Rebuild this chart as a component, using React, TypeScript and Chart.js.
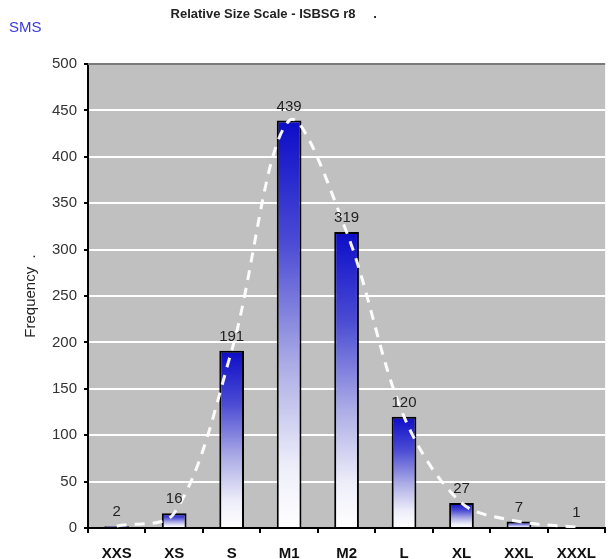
import React, { useEffect, useRef } from "react";
import { Chart, registerables } from "chart.js";

Chart.register(...registerables);

const categories = ["XXS", "XS", "S", "M1", "M2", "L", "XL", "XXL", "XXXL"];
const frequencies = [2, 16, 191, 439, 319, 120, 27, 7, 1];
const yMin = 0;
const yMax = 500;
const yStep = 50;
const titleText = "Relative Size Scale - ISBSG r8";
const brandText = "SMS";
const yTitleText = "Frequency";

const W = 608;
const H = 559;

const decorPlugin = {
  id: "decor",
  beforeDraw(chart: any) {
    const { ctx, chartArea } = chart;
    ctx.save();
    ctx.fillStyle = "#ffffff";
    ctx.fillRect(0, 0, chart.width, chart.height);
    ctx.fillStyle = "#c0c0c0";
    ctx.fillRect(chartArea.left, chartArea.top, chartArea.right - chartArea.left, chartArea.bottom - chartArea.top);
    ctx.restore();
  },
  afterDatasetsDraw(chart: any) {
    const { ctx, chartArea } = chart;
    const meta = chart.getDatasetMeta(0);
    ctx.save();
    ctx.strokeStyle = "#7a7a7a";
    ctx.lineWidth = 2;
    ctx.beginPath();
    ctx.moveTo(chartArea.left, chartArea.top);
    ctx.lineTo(chartArea.right, chartArea.top);
    ctx.stroke();
    ctx.fillStyle = "#222";
    ctx.font = "15px 'Liberation Sans', Arial, sans-serif";
    ctx.textAlign = "center";
    ctx.textBaseline = "alphabetic";
    meta.data.forEach((bar: any, i: number) => {
      ctx.fillText(String(frequencies[i]), bar.x, bar.y - 10);
    });
    ctx.restore();
  },
  afterDraw(chart: any) {
    const { ctx } = chart;
    ctx.save();
    ctx.fillStyle = "#222";
    ctx.font = "bold 13px 'Liberation Sans', Arial, sans-serif";
    ctx.textAlign = "center";
    ctx.textBaseline = "middle";
    ctx.fillText(titleText, 263, 14);
    ctx.fillText(".", 375, 14);
    ctx.fillStyle = "#3a3ae0";
    ctx.font = "15px 'Liberation Sans', Arial, sans-serif";
    ctx.textAlign = "left";
    ctx.fillText(brandText, 9, 28);
    ctx.translate(31, 296);
    ctx.rotate(-Math.PI / 2);
    ctx.fillStyle = "#222";
    ctx.font = "15px 'Liberation Sans', Arial, sans-serif";
    ctx.textAlign = "center";
    ctx.fillText(yTitleText + "  .", 0, 0);
    ctx.restore();
  },
};

function barGradient(context: any) {
  const chart = context.chart;
  const { ctx, chartArea, scales } = chart;
  if (!chartArea || !scales.y || context.type !== "data") return "#1010cc";
  const yTop = scales.y.getPixelForValue(context.raw);
  const yBot = scales.y.getPixelForValue(0);
  const g = ctx.createLinearGradient(0, yTop, 0, Math.max(yBot, yTop + 1));
  g.addColorStop(0, "#0c0cc8");
  g.addColorStop(0.3, "#4b4bd4");
  g.addColorStop(0.6, "#acace6");
  g.addColorStop(0.85, "#eeeefa");
  g.addColorStop(1, "#ffffff");
  return g;
}

export default function App() {
  const canvasRef = useRef<HTMLCanvasElement | null>(null);

  useEffect(() => {
    document.body.style.margin = "0";
    const canvas = canvasRef.current;
    if (!canvas) return;
    const chart = new Chart(canvas, {
      type: "bar",
      data: {
        labels: categories,
        datasets: [
          {
            type: "bar",
            data: frequencies,
            backgroundColor: barGradient,
            borderColor: "#000",
            borderWidth: 2,
            barPercentage: 0.43,
            categoryPercentage: 1,
            order: 2,
          } as any,
          {
            type: "line",
            data: frequencies,
            borderColor: "rgba(255,255,255,0.95)",
            borderWidth: 3,
            borderDash: [10, 8],
            pointRadius: 0,
            tension: 0.33,
            fill: false,
            order: 1,
          } as any,
        ],
      },
      options: {
        responsive: false,
        animation: false,
        devicePixelRatio: 1,
        layout: { padding: { top: 64, left: 0, right: 0, bottom: 0 } },
        plugins: {
          legend: { display: false },
          title: { display: false },
          tooltip: { enabled: false },
        },
        scales: {
          x: {
            offset: true,
            grid: {
              offset: true,
              drawOnChartArea: false,
              color: "#000",
              lineWidth: 2,
              tickLength: 5,
            },
            border: { color: "#000", width: 2 },
            ticks: {
              color: "#111",
              font: { family: "'Liberation Sans', Arial, sans-serif", size: 15, weight: "bold" },
              padding: 12,
              maxRotation: 0,
              autoSkip: false,
            },
            afterFit(scale: any) {
              scale.height = 31;
            },
          },
          y: {
            min: yMin,
            max: yMax,
            ticks: {
              stepSize: yStep,
              color: "#333",
              font: { family: "'Liberation Sans', Arial, sans-serif", size: 15 },
              padding: 7,
            },
            grid: {
              color: "#ffffff",
              lineWidth: 2,
              tickColor: "#000",
              tickWidth: 2,
              tickLength: 4,
            },
            border: { color: "#000", width: 2 },
            afterFit(scale: any) {
              scale.width = 88;
            },
          },
        },
      },
      plugins: [decorPlugin],
    } as any);
    return () => chart.destroy();
  }, []);

  return (
    <div style={{ position: "absolute", left: 0, top: 0, width: W, height: H }}>
      <canvas ref={canvasRef} width={W} height={H} style={{ width: W, height: H, display: "block" }} />
    </div>
  );
}
